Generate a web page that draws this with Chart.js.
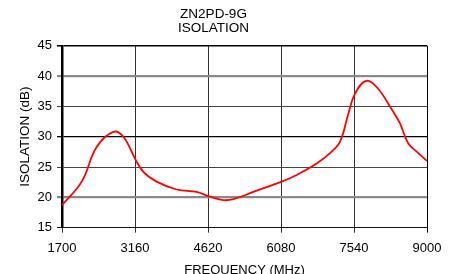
<!DOCTYPE html>
<html>
<head>
<meta charset="utf-8">
<script src="https://cdn.jsdelivr.net/npm/chart.js@4.4.0/dist/chart.umd.min.js"></script>
<style>
html,body{margin:0;padding:0;background:#fff;}
#wrap{width:455px;height:274px;position:relative;}
</style>
</head>
<body>
<div id="wrap"><canvas id="c" width="455" height="274"></canvas></div>
<script>
const titleLines = ['ZN2PD-9G', 'ISOLATION'];
const xTitle = 'FREQUENCY (MHz)';
const yTitle = 'ISOLATION (dB)';
const xTicks = [1700, 3160, 4620, 6080, 7540, 9000];
const yTicks = [15, 20, 25, 30, 35, 40, 45];
const freq = [1700, 2094, 2393, 2727, 2927, 3160, 3327, 3593, 3993, 4393, 4627, 4927, 5127, 5527, 6093, 6393, 6793, 7060, 7260, 7427, 7560, 7780, 7993, 8327, 8460, 8627, 8827, 9000];
const iso  = [18.7, 22.6, 28.3, 30.8, 30.0, 26.4, 24.2, 22.6, 21.3, 20.9, 20.2, 19.55, 19.7, 20.9, 22.6, 23.7, 25.6, 27.3, 29.2, 33.8, 37.1, 39.2, 38.2, 34.1, 32.2, 28.9, 27.3, 26.0];

const FONT = "'Liberation Sans', Arial, sans-serif";

function yGridColor(v){
  if (v === 45 || v === 30) return '#000';
  if (v === 40 || v === 20) return '#8a8a8a';
  if (v === 15) return '#111';
  return '#444';
}
function yGridWidth(v){
  if (v === 40 || v === 20) return 2.2;
  if (v === 45) return 1.6;
  if (v === 30) return 1.3;
  return 1;
}

new Chart(document.getElementById('c'), {
  type: 'line',
  data: {
    datasets: [{
      data: freq.map((f, i) => ({x: f, y: iso[i]})),
      borderColor: '#ff0000',
      borderWidth: 1.8,
      pointRadius: 0,
      fill: false,
      tension: 0.4
    }]
  },
  options: {
    responsive: false,
    animation: false,
    devicePixelRatio: 1,
    layout: {padding: {left: 0, right: 28, top: 0, bottom: 0}},
    plugins: {
      legend: {display: false},
      tooltip: {enabled: false},
      title: {
        display: true,
        text: titleLines,
        color: '#000',
        font: {family: FONT, size: 13.5, weight: 'normal', lineHeight: 1.04},
        padding: {top: 7.3, bottom: 10.4}
      }
    },
    scales: {
      x: {
        type: 'linear',
        min: 1700,
        max: 9000,
        afterBuildTicks: (axis) => { axis.ticks = xTicks.map(v => ({value: v})); },
        afterFit: (scale) => { scale.height = 46.3; },
        ticks: {
          color: '#000',
          font: {family: FONT, size: 13},
          padding: 7.5,
          maxRotation: 0,
          autoSkip: false,
          callback: (v) => String(v)
        },
        grid: {
          color: (ctx) => ctx.tick && ctx.tick.value === 9000 ? '#000' : '#333',
          lineWidth: 1,
          tickLength: 5
        },
        border: {display: true, color: '#111', width: 1},
        title: {
          display: true,
          text: xTitle,
          color: '#000',
          font: {family: FONT, size: 13},
          padding: {top: 0, bottom: -4}
        }
      },
      y: {
        type: 'linear',
        min: 15,
        max: 45,
        afterBuildTicks: (axis) => { axis.ticks = yTicks.map(v => ({value: v})); },
        afterFit: (scale) => { scale.width = 62; },
        ticks: {
          color: '#000',
          font: {family: FONT, size: 13},
          padding: 5,
          autoSkip: false
        },
        grid: {
          color: (ctx) => yGridColor(ctx.tick ? ctx.tick.value : 0),
          lineWidth: (ctx) => yGridWidth(ctx.tick ? ctx.tick.value : 0),
          tickLength: 5
        },
        border: {display: true, color: '#000', width: 2.5},
        title: {
          display: true,
          text: yTitle,
          color: '#000',
          font: {family: FONT, size: 13.5},
          padding: {top: 17, bottom: 0}
        }
      }
    }
  }
});
</script>
</body>
</html>
